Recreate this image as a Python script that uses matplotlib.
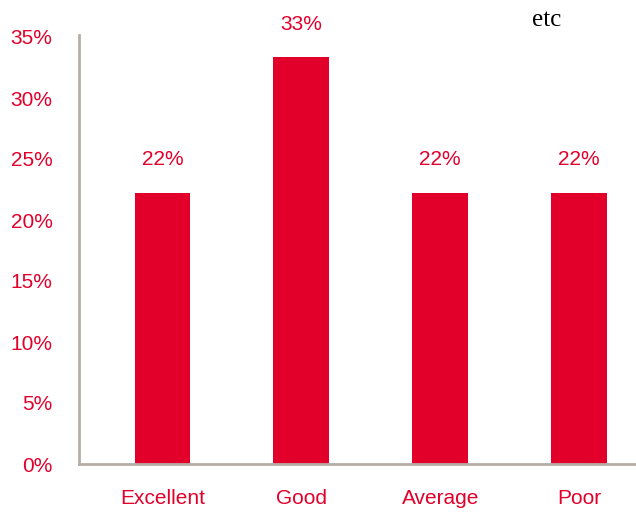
import matplotlib
matplotlib.use("Agg")
import matplotlib.pyplot as plt

categories = ["Excellent", "Good", "Average", "Poor"]
shares = [22.22, 33.33, 22.22, 22.22]
y_ticks = [0, 5, 10, 15, 20, 25, 30, 35]
tick_labels = [f"{t}%" for t in y_ticks]

RED = "#E2002B"
AXIS_GREY = "#B7ADA5"

plt.rcParams["font.family"] = ["Liberation Sans", "DejaVu Sans"]

fig = plt.figure(figsize=(6.36, 5.13), dpi=100)
ax = fig.add_axes([79 / 636, 49 / 513, 1 - 79 / 636, (464 - 37) / 513])

x = list(range(len(categories)))
bars = ax.bar(x, shares, width=0.4, color=RED, zorder=2)

for xi, v in zip(x, shares):
    ax.annotate(f"{v:.0f}%", (xi, v), xytext=(0, 17), textcoords="offset points",
                ha="center", va="bottom", color=RED, fontsize=15)

ax.set_xlim(-0.6, 3.41)
ax.set_ylim(0, 35)
ax.set_yticks(y_ticks)
ax.set_yticklabels(tick_labels)
ax.set_xticks(x)
ax.set_xticklabels(categories)
ax.tick_params(axis="both", length=0, labelsize=15, labelcolor=RED)
ax.tick_params(axis="y", pad=19)
ax.tick_params(axis="x", pad=18)

for s in ("top", "right"):
    ax.spines[s].set_visible(False)
for s in ("left", "bottom"):
    ax.spines[s].set_color(AXIS_GREY)
    ax.spines[s].set_linewidth(2)
ax.spines["left"].set_bounds(0, 35.2)

fig.text(547 / 636, 1 - 20 / 513, "etc", ha="center", va="center",
         fontsize=18, family="Liberation Serif", color="black")

fig.savefig("out.png", dpi=100)
